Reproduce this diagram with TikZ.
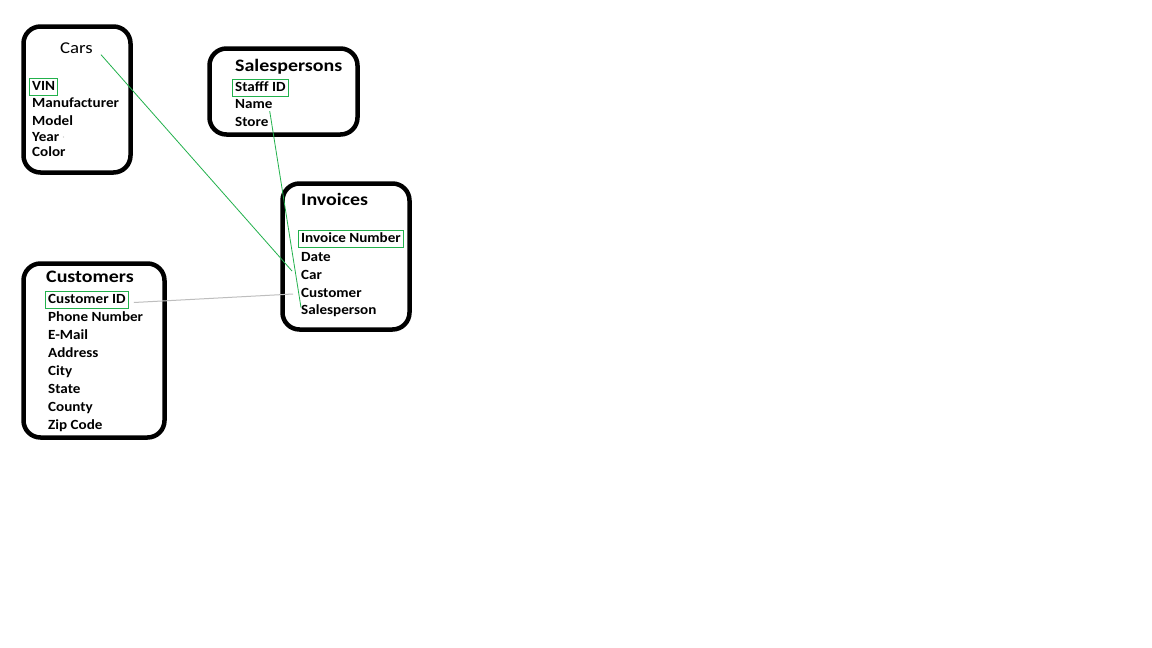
\documentclass[tikz,border=0pt]{standalone}
\usepackage{fontspec}
\setmainfont{Carlito}
\newfontfamily\fieldfont[FakeStretch=1.08]{Carlito}
\newfontfamily\titlefont[FakeStretch=1.14]{Carlito}
\usetikzlibrary{fit}
\definecolor{keygreen}{RGB}{34,177,76}
\definecolor{linkgray}{RGB}{190,190,190}
\begin{document}
\begin{tikzpicture}[x=1pt,y=-1pt,
  table/.style={draw=black,line width=4.5pt,rounded corners=17pt},
  title/.style={anchor=base west,inner sep=0pt,font=\titlefont\fontsize{17.5}{20}\selectfont\bfseries},
  field/.style={anchor=base west,inner sep=0pt,text height=10.5pt,text depth=2.5pt,
    font=\fieldfont\fontsize{14}{16}\selectfont\bfseries},
  keybox/.style={draw=keygreen,line width=1pt,inner xsep=2.5pt,inner ysep=1.8pt},
  link/.style={draw=keygreen,line width=0.8pt},
  graylink/.style={draw=linkgray,line width=1pt}]
\useasboundingbox[fill=white] (0,0) rectangle (1152,648);

% Cars
\draw[table] (23.5,26.5) rectangle (130.5,172.5);
\node[anchor=base west,inner sep=0pt,font=\titlefont\fontsize{16.5}{19}\selectfont] (carsT) at (60,53.5) {Cars};
\node[field] (vin) at (32,90.5) {VIN};
\node[field] at (32,107.5) {Manufacturer};
\node[field] at (32,125.5) {Model};
\node[field] (year) at (32,141) {Year};
\node[field] at (32,156.5) {Color};
\node[keybox,fit=(vin)] {};
\fill[linkgray] (63.5,137) circle (0.7);

% Salespersons
\draw[table] (209.5,48.5) rectangle (357.5,134.5);
\node[title] at (235,71.5) {Salespersons};
\node[field] (staff) at (235,91.5) {Stafff ID};
\node[field] (name) at (235,108.5) {Name};
\node[field] at (235,126.5) {Store};
\node[keybox,fit=(staff)] {};

% Invoices
\draw[table] (282.5,183.5) rectangle (409.5,329.5);
\node[title] at (301,205.5) {Invoices};
\node[field] (invno) at (301,242.5) {Invoice Number};
\node[field] at (301,261) {Date};
\node[field] (car) at (301,279) {Car};
\node[field] (cust) at (301,297) {Customer};
\node[field] (sales) at (301,314.5) {Salesperson};
\node[keybox,fit=(invno)] {};

% Customers
\draw[table] (23.5,263.5) rectangle (164.5,437.5);
\node[title] at (46,282.5) {Customers};
\node[field] (custid) at (48,303.5) {Customer ID};
\node[field] at (48,321.5) {Phone Number};
\node[field] at (48,339.5) {E-Mail};
\node[field] at (48,357.5) {Address};
\node[field] at (48,375.5) {City};
\node[field] at (48,393.5) {State};
\node[field] at (48,411.5) {County};
\node[field] at (48,429.5) {Zip Code};
\node[keybox,fit=(custid)] (custidbox) {};

% Relations
\coordinate (carsEnd) at ([xshift=8pt,yshift=-6.5pt]carsT.east);
\coordinate (nameEnd) at ([xshift=-3pt]name.south east);
\draw[link] (carsEnd) -- ([xshift=-9pt,yshift=4pt]car.west);
\draw[link] (nameEnd) -- ([yshift=3pt]sales.west);
\draw[graylink] ([xshift=5pt,yshift=-3pt]custidbox.east) -- ([xshift=-8pt,yshift=-1pt]cust.west);
\end{tikzpicture}
\end{document}
